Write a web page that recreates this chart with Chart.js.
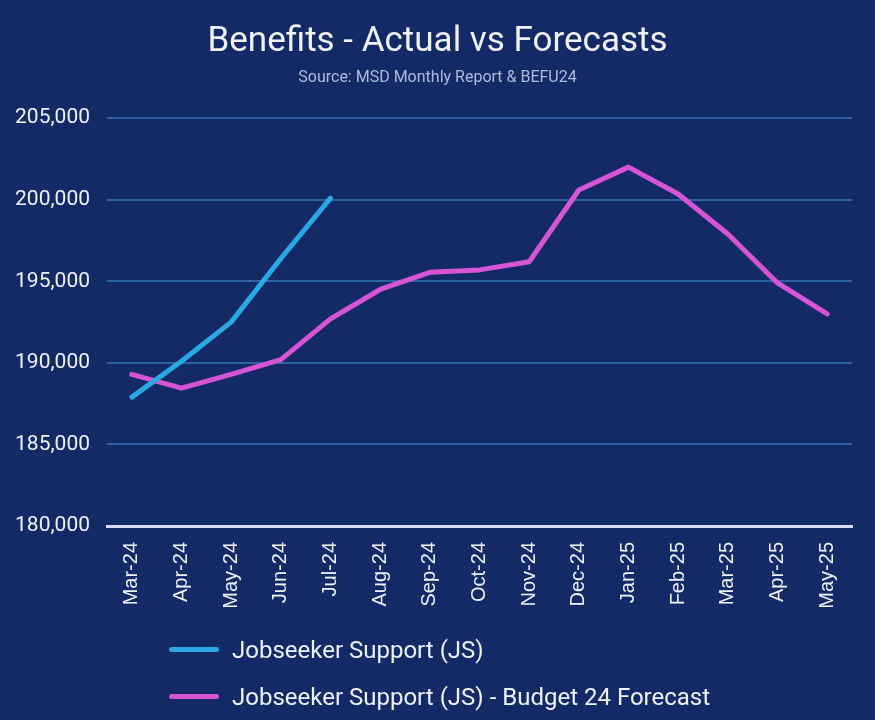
<!DOCTYPE html>
<html>
<head>
<meta charset="utf-8">
<script src="https://cdn.jsdelivr.net/npm/chart.js@4/dist/chart.umd.min.js"></script>
<style>
  html, body { margin: 0; padding: 0; background: #142a66; }
  #wrap { position: relative; width: 875px; height: 720px; }
  #legend { position: absolute; left: 169px; top: 626px; font-family: Roboto, sans-serif; font-size: 24px; color: #eef1f8; }
  .item { display: flex; align-items: center; height: 47px; }
  .swatch { width: 50px; height: 5px; border-radius: 3px; margin-right: 13px; }
</style>
</head>
<body>
<div id="wrap">
  <canvas id="grafico" width="875" height="720"></canvas>
  <div id="legend"></div>
</div>
<script>
const meses = ["Mar-24", "Apr-24", "May-24", "Jun-24", "Jul-24", "Aug-24", "Sep-24", "Oct-24",
  "Nov-24", "Dec-24", "Jan-25", "Feb-25", "Mar-25", "Apr-25", "May-25"];
const jsReal = [187900, 190100, 192500, 196400, 200100, null, null, null, null, null, null, null, null, null, null];
const jsPrevisao = [189300, 188450, 189300, 190200, 192700, 194500, 195550, 195700, 196200, 200600, 202000, 200350, 197900, 194900, 193000];
const nomes = ["Jobseeker Support (JS)", "Jobseeker Support (JS) - Budget 24 Forecast"];
const cores = ["#2aa8e2", "#d655d6"];

const series = [jsReal, jsPrevisao];

const grafico = new Chart(document.getElementById("grafico"), {
  type: "line",
  data: {
    labels: meses,
    datasets: series.map((valores, i) => ({
      label: nomes[i],
      data: valores,
      borderColor: cores[i],
      backgroundColor: cores[i],
      borderWidth: 5,
      borderCapStyle: "round",
      borderJoinStyle: "round",
      pointRadius: 0,
      tension: 0,
      spanGaps: false
    }))
  },
  options: {
    responsive: false,
    animation: false,
    layout: { padding: { left: 0, right: 0, bottom: 94 } },
    plugins: {
      legend: { display: false },
      tooltip: { enabled: false },
      title: {
        display: true,
        text: "Benefits - Actual vs Forecasts",
        color: "#f0f2f8",
        font: { family: "Roboto", size: 35, weight: "normal" },
        padding: { top: 21, bottom: 5 }
      },
      subtitle: {
        display: true,
        text: "Source: MSD Monthly Report & BEFU24",
        color: "#aebbd9",
        font: { family: "Roboto", size: 16, weight: "normal" },
        padding: { top: 0, bottom: 31 }
      }
    },
    scales: {
      x: {
        offset: true,
        grid: { display: false, drawTicks: false },
        border: { display: true, color: "#d6def0", width: 3 },
        ticks: {
          color: "#eef1f8",
          font: { family: "Liberation Sans", size: 20 },
          minRotation: 90,
          maxRotation: 90,
          padding: 16,
          autoSkip: false
        },
        afterFit: (scale) => { scale.height = 100; }
      },
      y: {
        min: 180000,
        max: 205000,
        grid: { color: "#2f62a3", lineWidth: 2, drawTicks: false },
        border: { display: false },
        ticks: {
          stepSize: 5000,
          color: "#eef1f8",
          font: { family: "Roboto", size: 21 },
          padding: 17,
          callback: (v) => v.toLocaleString("en-US")
        },
        afterFit: (scale) => { scale.width = 107; }
      },
      direita: {
        position: "right",
        min: 180000,
        max: 205000,
        grid: { display: false, drawTicks: false },
        border: { display: false },
        ticks: { display: false },
        afterFit: (scale) => { scale.width = 23; }
      }
    }
  }
});

const legenda = document.getElementById("legend");
nomes.forEach((nome, i) => {
  const item = document.createElement("div");
  item.className = "item";
  item.innerHTML = '<span class="swatch" style="background:' + cores[i] + '"></span><span>' + nome + '</span>';
  legenda.appendChild(item);
});
</script>
</body>
</html>
